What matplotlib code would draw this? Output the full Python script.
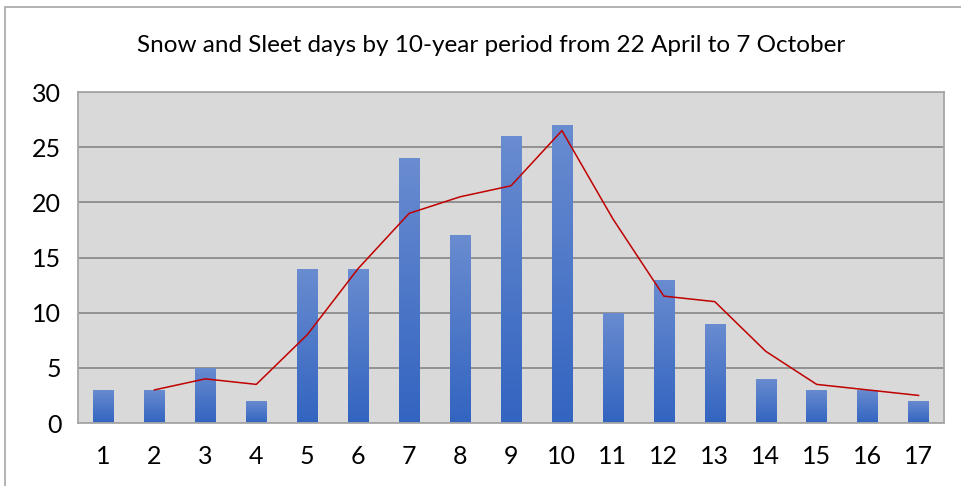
import matplotlib
matplotlib.use("Agg")
import matplotlib.pyplot as plt
import numpy as np
from matplotlib.patches import Rectangle
from matplotlib.colors import LinearSegmentedColormap

periods = list(range(1, 18))
snow_days = [3, 3, 5, 2, 14, 14, 24, 17, 26, 27, 10, 13, 9, 4, 3, 3, 2]
y_ticks = [0, 5, 10, 15, 20, 25, 30]
title = "Snow and Sleet days by 10-year period from 22 April to 7 October"

# 2-period moving average (trendline)
ma_x = periods[1:]
ma_y = [(snow_days[i - 1] + snow_days[i]) / 2 for i in range(1, len(snow_days))]

plt.rcParams['font.family'] = ['Lato', 'DejaVu Sans']

fig = plt.figure(figsize=(9.62, 4.86), dpi=100)
fig.patch.set_facecolor('white')
fig.add_artist(Rectangle((5 / 962, -0.01), 1.0, 1 - 7 / 486 + 0.01, transform=fig.transFigure,
                         fill=False, edgecolor='#A6A6A6', linewidth=1.2))

ax = fig.add_axes([78 / 962, 1 - 423 / 486, (944 - 78) / 962, (423 - 92) / 486])
ax.set_facecolor('#D9D9D9')
ax.set_xlim(0.5, 17.5)
ax.set_ylim(0, 30)
ax.set_yticks(y_ticks)
ax.set_xticks(periods)
ax.yaxis.grid(True, color='#8C8C8C', linewidth=1.3)
ax.set_axisbelow(True)
for s in ax.spines.values():
    s.set_color('#A6A6A6')
    s.set_linewidth(1.3)
ax.tick_params(length=0, labelsize=18, colors='black')
ax.tick_params(axis='x', pad=16)
ax.tick_params(axis='y', pad=12)

cmap = LinearSegmentedColormap.from_list('g', ['#3264C0', '#6A8CD0'])
grad = np.linspace(0, 1, 256).reshape(-1, 1)
bars = ax.bar(periods, snow_days, width=0.4, color='#4A74C8', zorder=2)
for b in bars:
    x0, w, h = b.get_x(), b.get_width(), b.get_height()
    im = ax.imshow(grad, cmap=cmap, extent=[x0, x0 + w, 0, h], origin='lower',
                   aspect='auto', zorder=2.5)
    im.set_clip_path(b)
ax.set_xlim(0.5, 17.5)
ax.set_ylim(0, 30)

ax.plot(ma_x, ma_y, color='#C00000', linewidth=1.1, zorder=3)

fig.text(491.5 / 962, 1 - 45 / 486, title, ha='center', va='center', fontsize=17.5)

fig.savefig('out.png', dpi=100)
